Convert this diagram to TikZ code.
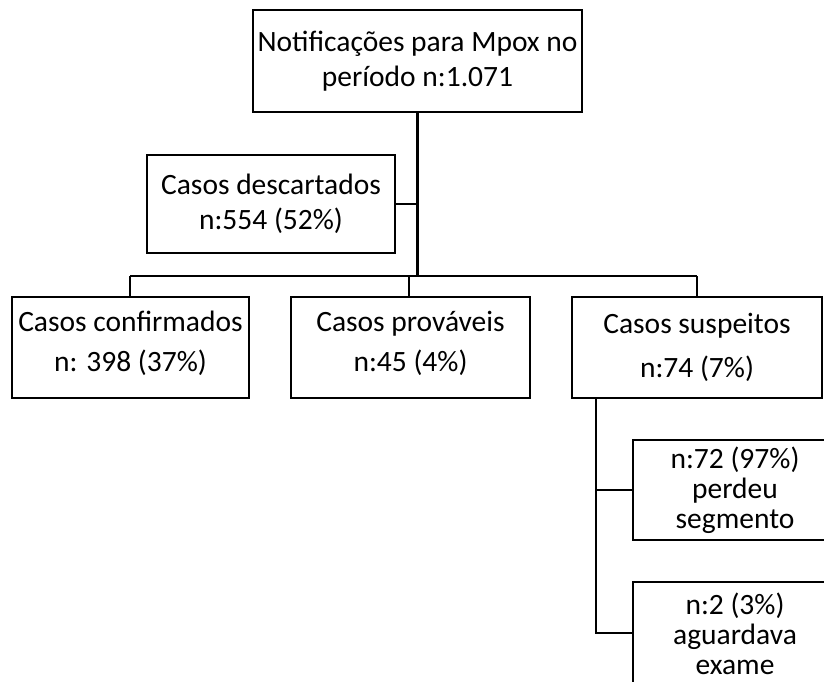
\documentclass[tikz,border=0pt]{standalone}
\usepackage{fontspec}
\setmainfont{Carlito}
\begin{document}
\begin{tikzpicture}[x=1pt,y=-1pt,
  box/.style={draw=black,line width=2.2pt,rectangle,inner sep=0pt,align=center,
    font=\fontsize{29.5}{35}\selectfont},
  area/.style={rectangle,inner sep=0pt},
  txt/.style={inner sep=0pt,align=center,font=\fontsize{29.5}{30}\selectfont},
  link/.style={draw=black,line width=2.2pt},
  trunk/.style={draw=black,line width=3pt}]
\useasboundingbox (0,0) rectangle (824,682);
\clip (0,0) rectangle (824,682);
\fill[white] (0,0) rectangle (824,682);

\node[box,minimum width=329pt,minimum height=102pt] (top) at (417.5,61)
  {Notificações para Mpox no\\período n:1.071};
\node[box,minimum width=248pt,minimum height=98pt] (desc) at (271,204)
  {Casos descartados\\n:554 (52\%)};
\node[box,minimum width=237pt,minimum height=101pt,font=\fontsize{29.5}{40}\selectfont,text depth=12pt] (conf) at (130.5,347.5)
  {Casos confirmados\\n: 398 (37\%)};
\node[box,minimum width=239pt,minimum height=101pt,font=\fontsize{29.5}{40}\selectfont,text depth=12pt] (prov) at (410.5,347.5)
  {Casos prováveis\\n:45 (4\%)};
\node[box,minimum width=250pt,minimum height=101pt,font=\fontsize{29.5}{44}\selectfont] (susp) at (697,347.5)
  {Casos suspeitos\\n:74 (7\%)};

\node[area,minimum width=220pt,minimum height=100pt,anchor=west] (perd) at (633,490) {};
\draw[link] (perd.north east) -- (perd.north west) -- (perd.south west) -- (perd.south east);
\node[txt] (perdtxt) at (735,490) {n:72 (97\%)\\perdeu\\segmento};
\node[area,minimum width=220pt,minimum height=120pt,anchor=north west] (agu) at (633,582) {};
\draw[link] (agu.north east) -- (agu.north west) -- (agu.south west);
\node[txt] (agutxt) at (735,634) {n:2 (3\%)\\aguardava\\exame};

\coordinate (hb) at (417,276);
\coordinate (hl) at (130,276);
\coordinate (hr) at (697,276);
\coordinate (hp) at (409,276);
\coordinate (sv) at (596,633);

\draw[trunk] (top.south -| hb) -- (hb);
\draw[link] (desc.east) -- (desc.east -| hb);
\draw[link] (hl) -- (hr);
\draw[link] (hl) -- (conf.north -| hl);
\draw[link] (hp) -- (prov.north -| hp);
\draw[link] (hr) -- (susp.north -| hr);
\draw[link] (susp.south -| sv) -- (sv) -- (sv -| agu.west);
\draw[link] (perd.west -| sv) -- (perd.west);
\end{tikzpicture}
\end{document}
